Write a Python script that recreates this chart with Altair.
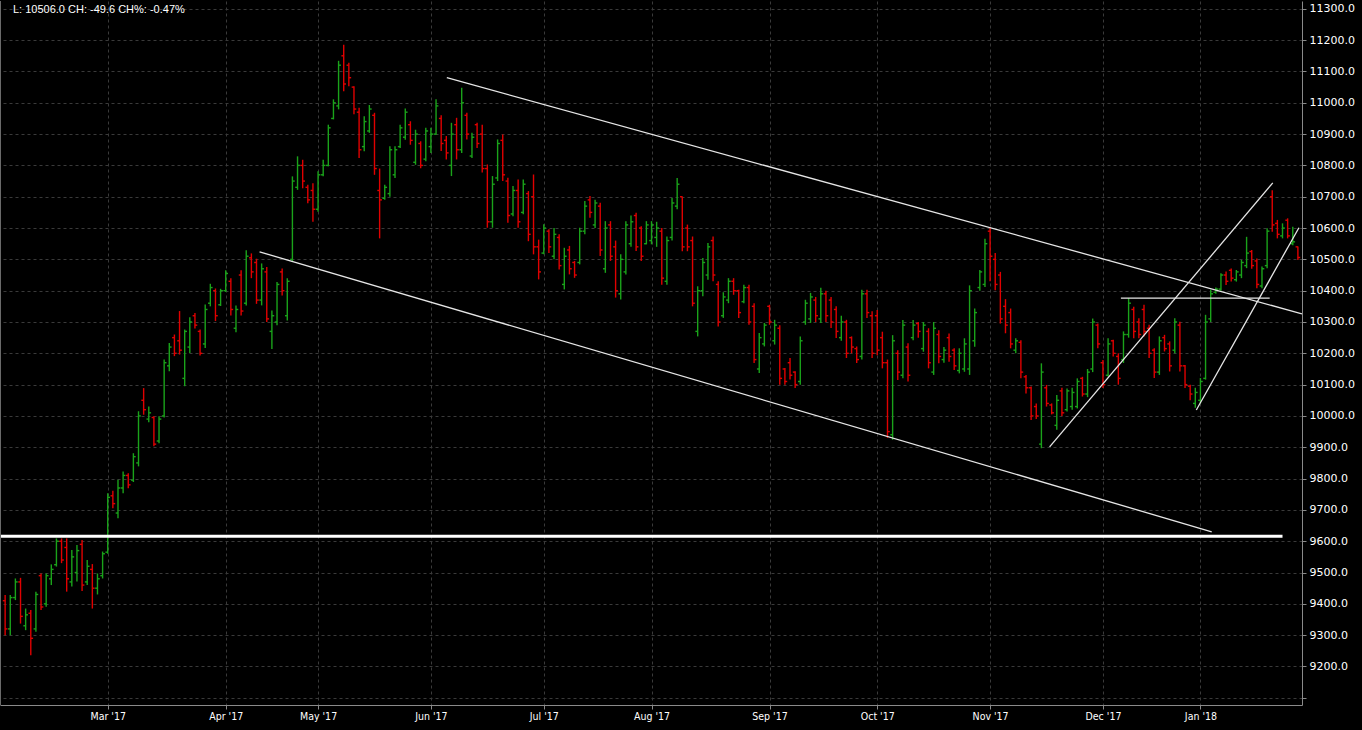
import json
import pandas as pd
import altair as alt

# ---------------- data: daily OHLC bars (open, high, low, close) ----------------
FEB17 = [(9410,9428,9300,9320),(9320,9428,9300,9420),(9420,9481,9412,9470),(9470,9483,9337,9360),
         (9330,9385,9316,9365),(9370,9380,9236,9290),(9320,9439,9311,9430),(9490,9497,9380,9390),
         (9400,9497,9391,9490),(9480,9526,9460,9510),(9525,9609,9519,9600),(9600,9609,9530,9540),
         (9580,9609,9439,9480),(9470,9572,9455,9550),(9500,9588,9471,9570),(9590,9604,9441,9460),
         (9470,9540,9460,9520),(9510,9527,9385,9450),(9450,9497,9430,9480),(9490,9567,9481,9560)]
MAR17 = [(9565,9753,9560,9740),(9745,9761,9705,9720),(9690,9796,9673,9770),(9770,9823,9753,9810),
         (9810,9817,9769,9780),(9795,9881,9789,9870),(9850,10015,9839,10000),(10050,10089,10004,10020),
         (9990,10030,9980,10010),(9995,9999,9903,9910),(9920,9999,9913,9990),(10000,10180,9995,10170),
         (10160,10233,10143,10220),(10250,10260,10191,10200),(10240,10335,10196,10210),(10120,10276,10095,10270),
         (10220,10315,10201,10300),(10320,10329,10279,10290),(10270,10276,10193,10200),(10230,10356,10217,10340),
         (10360,10422,10350,10410),(10400,10407,10303,10320),(10355,10406,10351,10400)]
APR17 = [(10400,10465,10396,10455),(10430,10440,10321,10340),(10280,10353,10267,10340),(10450,10465,10321,10335),
         (10360,10529,10353,10510),(10505,10519,10440,10460),(10490,10502,10358,10370),(10370,10487,10353,10470),
         (10460,10476,10300,10310),(10270,10337,10214,10320),(10300,10428,10290,10420),(10460,10471,10385,10400),
         (10320,10440,10305,10430),(10500,10765,10492,10750),(10730,10829,10722,10800),(10800,10818,10727,10750),
         (10730,10738,10679,10690),(10720,10743,10620,10660)]
MAY17 = [(10660,10781,10652,10770),(10770,10818,10765,10800),(10800,10930,10797,10920),(10950,11011,10947,11000),
         (10990,11134,10979,11120),(11150,11185,11037,11060),(11120,11128,11053,11080),(11050,11053,10963,10980),
         (10970,10984,10824,10850),(10860,10957,10845,10940),(10910,10993,10904,10980),(10960,10968,10770,10790),
         (10720,10790,10567,10690),(10695,10738,10690,10730),(10710,10861,10700,10850),(10770,10861,10760,10850),
         (10860,10930,10856,10920),(10890,10982,10882,10970),(10930,10941,10866,10880),(10810,10914,10802,10900),
         (10870,10877,10791,10800),(10820,10920,10813,10910)]
JUN17 = [(10860,10920,10840,10900),(10900,11011,10898,10990),(10950,10960,10846,10870),(10880,10894,10819,10840),
         (10800,10936,10766,10900),(10930,10952,10819,10850),(10850,11048,10840,11000),(10960,10968,10883,10900),
         (10830,10904,10824,10890),(10930,10936,10856,10870),(10900,10930,10777,10790),(10790,10803,10601,10620),
         (10620,10766,10601,10740),(10760,10883,10750,10870),(10880,10899,10750,10770),(10750,10761,10617,10640),
         (10645,10734,10638,10720),(10720,10755,10601,10620),(10650,10755,10644,10740),(10710,10718,10558,10580),
         (10700,10771,10516,10540),(10540,10563,10436,10460)]
JUL17 = [(10520,10612,10516,10600),(10590,10596,10520,10540),(10510,10600,10500,10580),(10570,10580,10468,10480),
         (10420,10537,10404,10510),(10530,10543,10452,10470),(10490,10495,10441,10450),(10490,10601,10484,10590),
         (10590,10686,10580,10670),(10690,10702,10633,10650),(10610,10690,10600,10680),(10670,10681,10511,10530),
         (10470,10622,10457,10600),(10610,10622,10495,10510),(10540,10560,10378,10400),(10390,10516,10372,10500),
         (10460,10622,10452,10610),(10550,10640,10540,10620),(10640,10649,10527,10540),(10600,10606,10495,10510),
         (10550,10622,10548,10610)]
AUG17 = [(10560,10622,10548,10610),(10570,10620,10540,10600),(10590,10600,10419,10440),(10430,10573,10419,10560),
         (10570,10696,10560,10680),(10670,10760,10660,10740),(10700,10701,10526,10540),(10600,10611,10526,10540),
         (10560,10573,10350,10360),(10270,10414,10254,10400),(10400,10504,10382,10490),(10450,10552,10435,10540),
         (10560,10573,10430,10450),(10420,10430,10286,10300),(10320,10395,10313,10380),(10370,10440,10360,10430),
         (10430,10440,10387,10400),(10400,10403,10313,10330),(10365,10419,10360,10410),(10410,10419,10291,10300),
         (10350,10360,10169,10180),(10150,10265,10137,10250),(10230,10297,10222,10290)]
SEP17 = [(10350,10355,10291,10300),(10240,10307,10228,10290),(10280,10290,10100,10120),(10150,10153,10100,10110),
         (10170,10185,10116,10130),(10140,10143,10089,10100),(10110,10254,10100,10240),(10300,10371,10291,10360),
         (10310,10393,10297,10380),(10370,10380,10300,10320),(10310,10409,10297,10390),(10390,10400,10300,10320),
         (10370,10380,10281,10300),(10340,10350,10249,10270),(10250,10320,10240,10300),(10300,10307,10185,10200),
         (10250,10254,10200,10220),(10215,10222,10169,10180),(10190,10403,10180,10390),(10390,10403,10313,10330),
         (10320,10334,10185,10200)]
OCT17 = [(10320,10338,10194,10210),(10250,10269,10152,10170),(10170,10180,9930,9950),(9940,10258,9924,10240),
         (10200,10210,10115,10140),(10130,10306,10120,10290),(10220,10232,10110,10130),(10250,10306,10242,10290),
         (10295,10300,10250,10270),(10215,10300,10205,10290),(10270,10280,10152,10170),(10140,10300,10131,10280),
         (10260,10274,10168,10190),(10180,10220,10170,10210),(10250,10263,10173,10190),(10210,10216,10147,10160),
         (10145,10216,10136,10200),(10150,10248,10141,10230),(10150,10417,10131,10400),(10240,10343,10221,10330),
         (10410,10466,10400,10460),(10420,10566,10412,10550)]
NOV17 = [(10590,10603,10430,10510),(10500,10520,10401,10420),(10450,10460,10295,10310),(10350,10373,10264,10290),
         (10330,10343,10216,10230),(10210,10248,10200,10240),(10235,10242,10120,10140),(10125,10131,10072,10090),
         (10090,10094,9987,10000),(10030,10040,9990,10000),(9910,10168,9897,10140),(10090,10099,10030,10040),
         (10035,10040,10005,10010),(9970,10067,9956,10050),(10080,10090,10000,10010),(10020,10088,10014,10080),
         (10030,10090,10020,10075),(10030,10120,10024,10110),(10120,10125,10062,10070),(10070,10150,10060,10140),
         (10150,10311,10140,10300),(10290,10295,10216,10230)]
DEC17 = [(10170,10179,10089,10100),(10130,10248,10126,10230),(10240,10243,10190,10200),(10190,10200,10100,10120),
         (10180,10270,10169,10260),(10260,10376,10250,10360),(10340,10349,10248,10270),(10300,10312,10248,10260),
         (10340,10355,10254,10270),(10280,10291,10185,10200),(10210,10216,10121,10140),(10140,10254,10131,10240),
         (10250,10259,10206,10215),(10230,10238,10142,10160),(10210,10312,10200,10300),(10290,10301,10142,10160),
         (10160,10163,10089,10100),(10095,10100,10050,10070),(10040,10090,10026,10075)]
JAN18 = [(10050,10121,10040,10110),(10120,10323,10116,10300),(10310,10403,10300,10390),(10395,10410,10390,10405),
         (10405,10456,10400,10450),(10450,10461,10418,10430),(10465,10471,10429,10440),(10435,10466,10429,10460),
         (10450,10498,10440,10490),(10480,10572,10472,10520),(10525,10530,10470,10480),(10495,10503,10408,10420),
         (10415,10477,10408,10470),(10480,10599,10472,10590),(10700,10721,10588,10610),(10615,10626,10567,10580),
         (10575,10615,10567,10600),(10625,10631,10567,10575),(10550,10604,10545,10556),(10540,10541,10498,10506)]

MONTHS = [("Feb '17", FEB17), ("Mar '17", MAR17), ("Apr '17", APR17), ("May '17", MAY17),
          ("Jun '17", JUN17), ("Jul '17", JUL17), ("Aug '17", AUG17), ("Sep '17", SEP17),
          ("Oct '17", OCT17), ("Nov '17", NOV17), ("Dec '17", DEC17), ("Jan '18", JAN18)]

# drawn trend lines: (bar index, price) end points
TREND_LINES = {
    "upper_channel": [(86.1, 11080), (252.8, 10326)],
    "lower_channel": [(49.6, 10524), (235.2, 9630)],
    "rise_outer": [(203.6, 9901), (247.1, 10744)],
    "rise_inner": [(232.2, 10019), (252.2, 10601)],
    "resistance": [(217.5, 10376), (246.5, 10376)],
}
SUPPORT_LINE = [(-1.0, 9616), (249.0, 9616)]
HEADER = "L: 10506.0 CH: -49.6 CH%: -0.47%"
Y_TICKS = list(range(9100, 11301, 100))

# ---------------- page: no body margin, black page (reference has no white frame) ----------------
try:
    import altair.utils.html as _ah
    _orig_tpl = _ah.TEMPLATES["standard"]

    class _BlackPage:
        def render(self, *args, **kwargs):
            html = _orig_tpl.render(*args, **kwargs)
            return html.replace(
                "<head>",
                "<head>\n<style>html,body{margin:0;padding:0;background:#000;overflow:hidden}</style>",
                1,
            )

    _ah.TEMPLATES["standard"] = _BlackPage()
except Exception:
    pass

# ---------------- build tables ----------------
rows, month_starts, month_labels = [], [], []
i = 0
for label, bars in MONTHS:
    if i > 0:
        month_starts.append(i)
        month_labels.append(label)
    for o, h, l, c in bars:
        rows.append(dict(idx=i, o=o, h=h, l=l, c=c, dir="up" if c >= o else "down"))
        i += 1
df = pd.DataFrame(rows)
n = len(df)

line_rows = []
for name, pts in TREND_LINES.items():
    for k, (x, v) in enumerate(pts):
        line_rows.append(dict(name=name, idx=x, v=v, k=k))
lines_df = pd.DataFrame(line_rows)
support_df = pd.DataFrame([dict(idx=x, v=v, k=k) for k, (x, v) in enumerate(SUPPORT_LINE)])

XDOM = [-1, n - 0.2]
YDOM = [9077, 11325]
GREEN, RED = "#1aa31a", "#e00000"
GRID = "#3a3a3a"
COND_FONT = "'Liberation Sans Narrow', 'DejaVu Sans Condensed', 'Open Sans Condensed', 'Liberation Sans', sans-serif"

xscale = alt.Scale(domain=XDOM, nice=False, zero=False)
yscale = alt.Scale(domain=YDOM, nice=False, zero=False)
color = alt.Color("dir:N", scale=alt.Scale(domain=["up", "down"], range=[GREEN, RED]), legend=None)

x_label_expr = f"{json.dumps(month_labels)}[indexof({json.dumps(month_starts)}, datum.value)]"

x_axis = alt.Axis(values=month_starts, labelExpr=x_label_expr, grid=True, gridColor=GRID,
                  gridDash=[3, 3], domainColor="#8a8a8a", tickColor="#8a8a8a", tickSize=4,
                  labelColor="#ffffff", labelFont=COND_FONT, labelFontSize=10.5,
                  labelPadding=2, labelFlush=False, title=None)
y_axis = alt.Axis(orient="right", values=Y_TICKS,
                  labelExpr="datum.value < 9150 ? '' : format(datum.value, '.1f')",
                  grid=True, gridColor=GRID, gridDash=[3, 3], domainColor="#8a8a8a",
                  tickColor="#8a8a8a", tickSize=4, labelColor="#ffffff", labelFont="DejaVu Sans",
                  labelFontSize=11, labelPadding=3, title=None)

base = alt.Chart(df)

hilo = base.mark_rule(strokeWidth=1.4).encode(
    x=alt.X("idx:Q", scale=xscale, axis=x_axis),
    y=alt.Y("l:Q", scale=yscale, axis=y_axis),
    y2="h:Q",
    color=color,
)
open_tick = base.transform_calculate(x0="datum.idx - 0.45").mark_rule(strokeWidth=1.4).encode(
    x=alt.X("x0:Q", scale=xscale, axis=x_axis),
    x2="idx:Q",
    y=alt.Y("o:Q", scale=yscale, axis=y_axis),
    color=color,
)
close_tick = base.transform_calculate(x1="datum.idx + 0.45").mark_rule(strokeWidth=1.4).encode(
    x=alt.X("idx:Q", scale=xscale, axis=x_axis),
    x2="x1:Q",
    y=alt.Y("c:Q", scale=yscale, axis=y_axis),
    color=color,
)

trend = alt.Chart(lines_df).mark_line(color="#e6e6e6", strokeWidth=1.3, clip=True).encode(
    x=alt.X("idx:Q", scale=xscale, axis=x_axis),
    y=alt.Y("v:Q", scale=yscale, axis=y_axis),
    detail="name:N",
    order="k:Q",
)
support = alt.Chart(support_df).mark_line(color="#ffffff", strokeWidth=3, clip=True).encode(
    x=alt.X("idx:Q", scale=xscale, axis=x_axis),
    y=alt.Y("v:Q", scale=yscale, axis=y_axis),
    order="k:Q",
)

left_edge = alt.Chart(pd.DataFrame({"a": [0]})).mark_rule(color="#6a6a6a", strokeWidth=1).encode(
    x=alt.value(0.5), y=alt.value(0), y2=alt.value(704)
)

header = alt.Chart(pd.DataFrame({"t": [HEADER]})).mark_text(
    align="left", baseline="middle", color="#ffffff", font="Liberation Sans", fontSize=11
).encode(x=alt.value(13), y=alt.value(9), text="t:N")

chart = alt.layer(hilo, open_tick, close_tick, trend, support, left_edge, header).properties(
    width=1302, height=704, padding=0, background="#000000",
).configure_view(stroke=None)

chart.save("out.html", embed_options={"renderer": "svg", "actions": False})
